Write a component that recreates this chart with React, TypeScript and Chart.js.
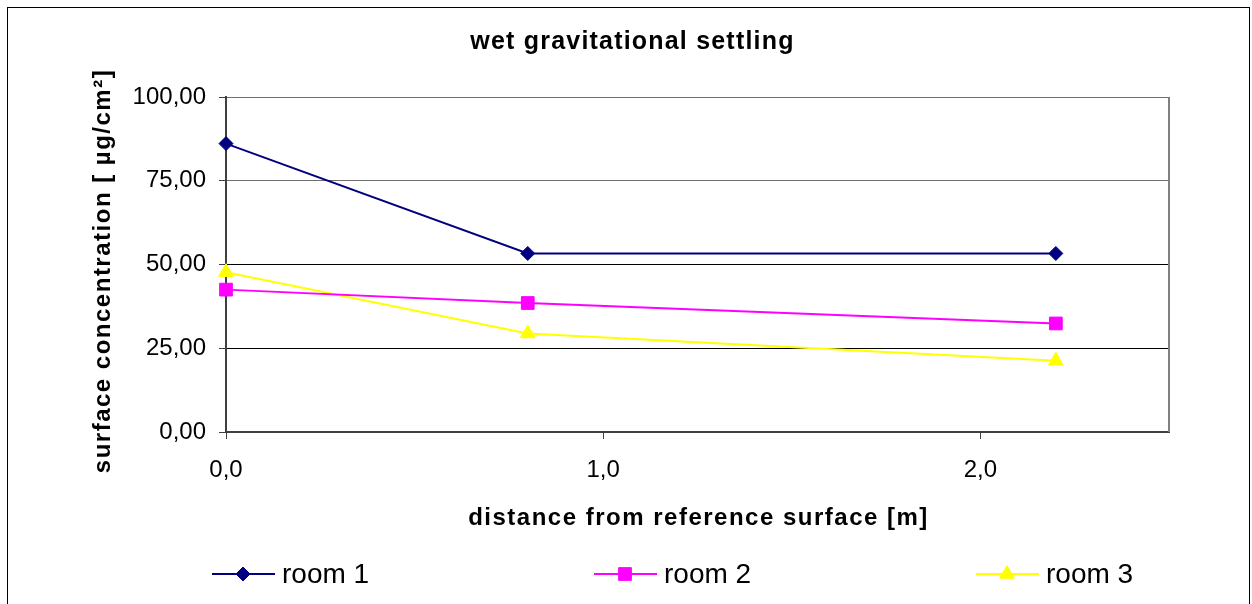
import React, { useEffect, useRef } from 'react';
import { Chart, registerables } from 'chart.js';
import { drawPoint } from 'chart.js/helpers';

Chart.register(...registerables);

const titleText = 'wet gravitational settling';
const xTitle = 'distance from reference surface [m]';
const yTitle = 'surface concentration [ µg/cm²]';
const distances = [0, 0.8, 2.2];
const seriesNames = ['room 1', 'room 2', 'room 3'];
const room1 = [86.1, 53.3, 53.3];
const room2 = [42.5, 38.5, 32.4];
const room3 = [47.7, 29.4, 21.3];
const xTicks = [0, 1, 2];
const yTicks = [0, 25, 50, 75, 100];

const colors = ['#000080', '#FF00FF', '#FFFF00'];
const pointStyles = ['rectRot', 'rect', 'triangle'];
const pointRadii = [7, 9, 8.5];

const FONT = '"Liberation Sans", Arial, sans-serif';

const decorPlugin = {
  id: 'decor',
  beforeDatasetsDraw(chart: any) {
    const { ctx, chartArea } = chart;
    ctx.save();
    ctx.strokeStyle = '#808080';
    ctx.lineWidth = 2;
    ctx.beginPath();
    ctx.moveTo(chartArea.right, chartArea.top);
    ctx.lineTo(chartArea.right, chartArea.bottom);
    ctx.stroke();
    ctx.restore();
  },
  afterDraw(chart: any) {
    const { ctx, chartArea, width } = chart;
    ctx.save();
    ctx.fillStyle = '#000';
    ctx.textBaseline = 'alphabetic';
    ctx.textAlign = 'center';
    // title
    ctx.font = `bold 25px ${FONT}`;
    ctx.letterSpacing = '1.2px';
    ctx.fillText(titleText, width / 2 + 4, 40.5);
    // x title
    ctx.font = `bold 24px ${FONT}`;
    ctx.letterSpacing = '1.5px';
    ctx.fillText(xTitle, (chartArea.left + chartArea.right) / 2 + 1, 517);
    // y title
    ctx.save();
    ctx.translate(102, 263);
    ctx.rotate(-Math.PI / 2);
    ctx.fillText(yTitle, 0, 0);
    ctx.restore();
    ctx.letterSpacing = '0px';
    // legend
    const legendY = 566;
    const startX = 204;
    const spacing = 382;
    chart.data.datasets.forEach((ds: any, i: number) => {
      const x0 = startX + i * spacing;
      ctx.strokeStyle = ds.borderColor;
      ctx.lineWidth = 2;
      ctx.beginPath();
      ctx.moveTo(x0, legendY);
      ctx.lineTo(x0 + 63, legendY);
      ctx.stroke();
      ctx.fillStyle = ds.pointBackgroundColor;
      ctx.strokeStyle = ds.pointBorderColor;
      ctx.lineWidth = 1;
      drawPoint(ctx, { pointStyle: ds.pointStyle, radius: ds.pointRadius, rotation: 0, borderWidth: 1 }, x0 + 31, legendY);
      ctx.fillStyle = '#000';
      ctx.font = `28px ${FONT}`;
      ctx.textAlign = 'left';
      ctx.fillText(ds.label, x0 + 70, legendY + 9);
    });
    ctx.restore();
  },
};

export default function App() {
  const canvasRef = useRef<HTMLCanvasElement | null>(null);

  useEffect(() => {
    if (!canvasRef.current) return;
    const series = [room1, room2, room3];
    const chart = new Chart(canvasRef.current, {
      type: 'line',
      data: {
        datasets: series.map((vals, i) => ({
          label: seriesNames[i],
          data: distances.map((x, j) => ({ x, y: vals[j] })),
          borderColor: colors[i],
          backgroundColor: colors[i],
          pointBackgroundColor: colors[i],
          pointBorderColor: colors[i],
          pointStyle: pointStyles[i] as any,
          pointRadius: pointRadii[i],
          pointBorderWidth: 1,
          borderWidth: 2,
          tension: 0,
          fill: false,
          clip: false as any,
        })),
      },
      plugins: [decorPlugin],
      options: {
        animation: false,
        responsive: false,
        maintainAspectRatio: false,
        layout: { padding: { top: 89, left: 0, right: 80, bottom: 102 } },
        plugins: {
          legend: { display: false },
          title: { display: false },
          tooltip: { enabled: false },
        },
        scales: {
          x: {
            type: 'linear',
            min: 0,
            max: 2.5,
            afterBuildTicks: (s: any) => {
              s.ticks = xTicks.map((v) => ({ value: v }));
            },
            afterFit: (s: any) => {
              s.height = 70;
            },
            grid: {
              drawOnChartArea: false,
              drawTicks: true,
              tickLength: 7,
              tickColor: '#404040',
              tickWidth: 1,
            },
            border: { color: '#404040', width: 2 },
            ticks: {
              color: '#000',
              font: { family: FONT, size: 24 },
              padding: 17,
              maxRotation: 0,
              autoSkip: false,
              callback: (v: any) => Number(v).toFixed(1).replace('.', ','),
            },
          },
          y: {
            type: 'linear',
            min: 0,
            max: 100,
            afterBuildTicks: (s: any) => {
              s.ticks = yTicks.map((v) => ({ value: v }));
            },
            afterFit: (s: any) => {
              s.width = 218;
            },
            grid: {
              color: (c: any) => (c.tick && c.tick.value >= 75 ? '#707070' : '#000000'),
              lineWidth: 1,
              tickLength: 7,
              tickColor: '#404040',
            },
            border: { color: '#404040', width: 2 },
            ticks: {
              color: '#000',
              font: { family: FONT, size: 24 },
              padding: 13,
              autoSkip: false,
              callback: (v: any) => Number(v).toFixed(2).replace('.', ','),
            },
          },
        },
      } as any,
    });
    return () => chart.destroy();
  }, []);

  return (
    <div
      style={{
        position: 'absolute',
        left: 7,
        top: 7,
        width: 1243,
        height: 597,
        boxSizing: 'border-box',
        border: '1px solid #000',
        borderBottom: 'none',
        background: '#fff',
      }}
    >
      <canvas ref={canvasRef} width={1241} height={596} style={{ display: 'block', width: 1241, height: 596 }} />
    </div>
  );
}
